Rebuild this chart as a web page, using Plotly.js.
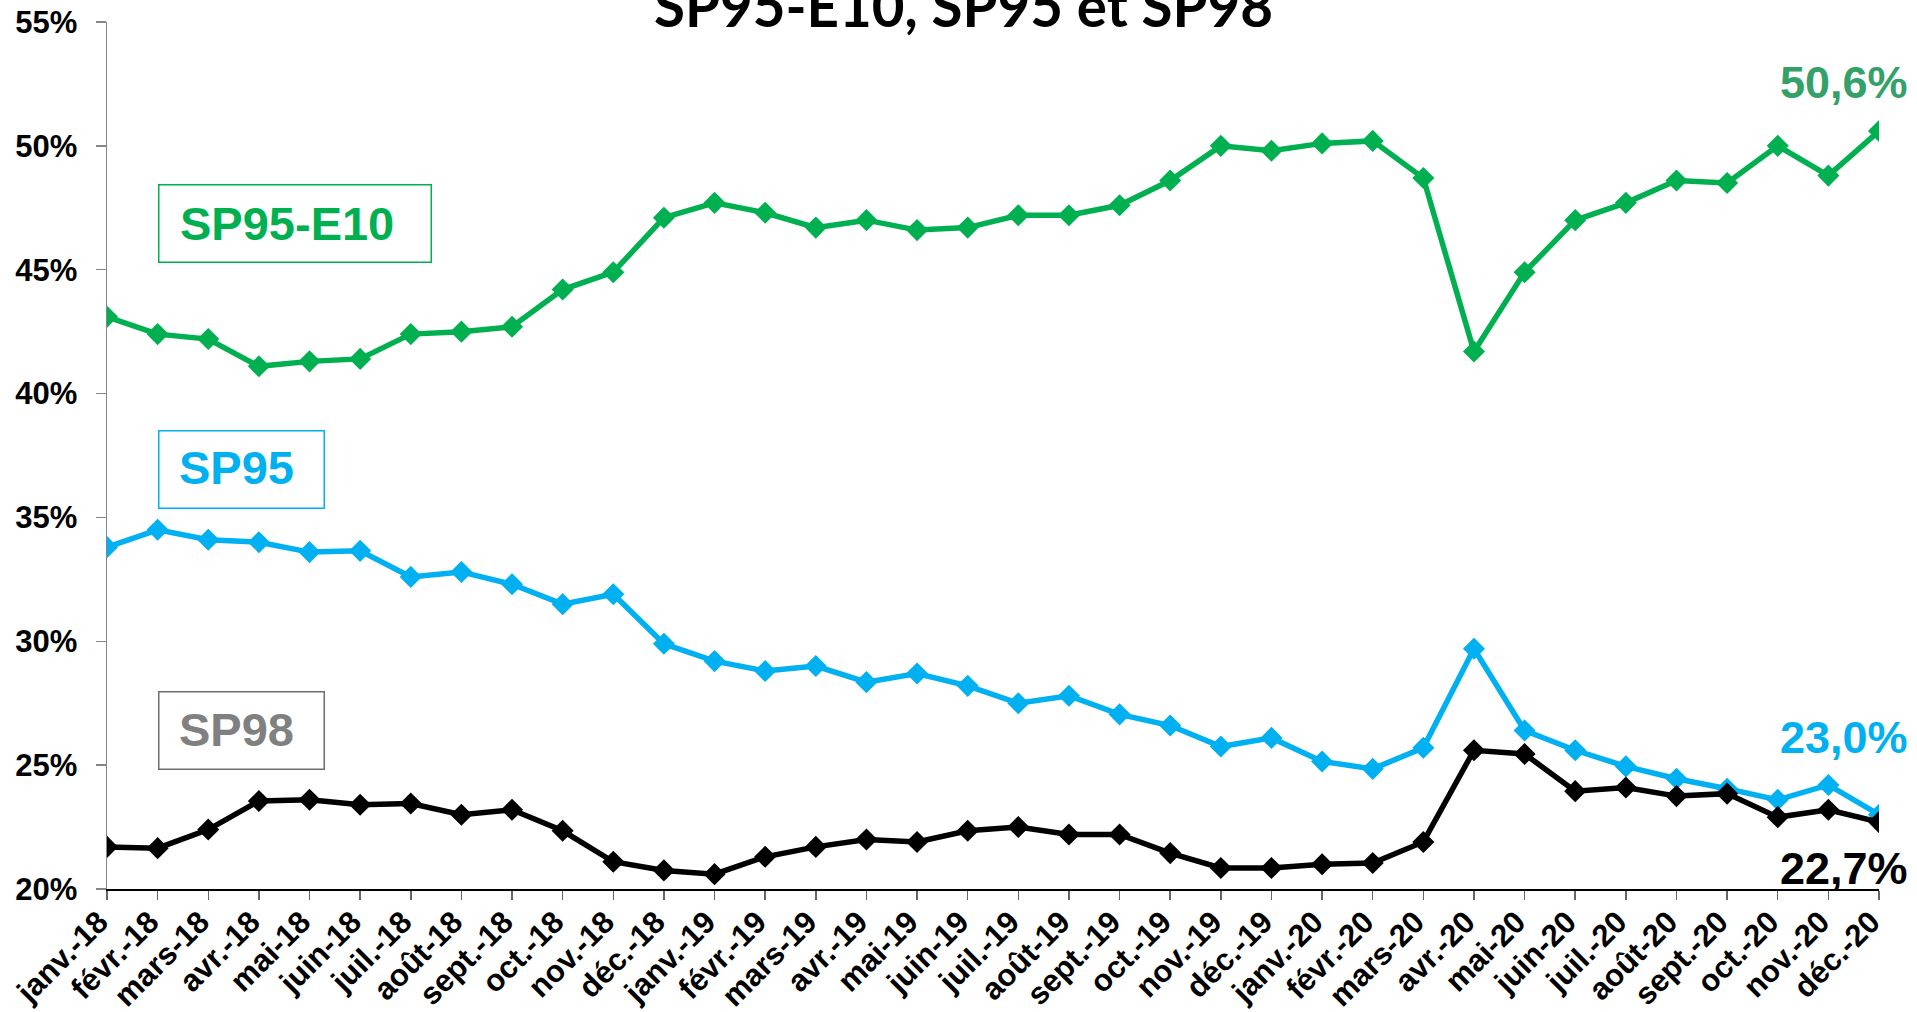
<!DOCTYPE html>
<html>
<head>
<meta charset="utf-8">
<script src="https://cdn.plot.ly/plotly-3.0.1.min.js"></script>
<style>html,body{margin:0;padding:0;background:#fff;}#chart{width:1917px;height:1012px;}</style>
</head>
<body>
<div id="chart"></div>
<script>
const months = ['janv.-18','févr.-18','mars-18','avr.-18','mai-18','juin-18','juil.-18','août-18','sept.-18','oct.-18','nov.-18','déc.-18',
'janv.-19','févr.-19','mars-19','avr.-19','mai-19','juin-19','juil.-19','août-19','sept.-19','oct.-19','nov.-19','déc.-19',
'janv.-20','févr.-20','mars-20','avr.-20','mai-20','juin-20','juil.-20','août-20','sept.-20','oct.-20','nov.-20','déc.-20'];

const sp95e10 = [43.1,42.4,42.2,41.1,41.3,41.4,42.4,42.5,42.7,44.2,44.9,47.1,
47.7,47.3,46.7,47.0,46.6,46.7,47.2,47.2,47.6,48.6,50.0,49.8,
50.1,50.2,48.7,41.7,44.9,47.0,47.7,48.6,48.5,50.0,48.8,50.6];

const sp95 = [33.8,34.5,34.1,34.0,33.6,33.65,32.6,32.8,32.3,31.5,31.9,29.9,
29.2,28.8,29.0,28.35,28.7,28.2,27.5,27.8,27.05,26.6,25.75,26.1,
25.15,24.85,25.7,29.7,26.4,25.6,24.95,24.45,24.05,23.6,24.2,23.0];

const sp98 = [21.7,21.65,22.4,23.55,23.6,23.4,23.45,23.0,23.2,22.35,21.1,20.75,
20.6,21.3,21.7,22.0,21.9,22.35,22.5,22.2,22.2,21.45,20.85,20.85,
21.0,21.05,21.9,25.6,25.45,23.95,24.1,23.75,23.85,22.9,23.2,22.7];

const yTickVals = [20,25,30,35,40,45,50,55];
const yTickText = ['20%','25%','30%','35%','40%','45%','50%','55%'];

const titleText = 'SP95-E10, SP95 et SP98';
const lastLabels = ['50,6%','23,0%','22,7%'];
const seriesNames = ['SP95-E10','SP95','SP98'];

const GREEN = '#00B050', CYAN = '#00B0F0', BLACK = '#000000';

function tr(y, color, name) {
  return {
    x: months, y: y, type: 'scatter', mode: 'lines+markers', name: name,
    line: {color: color, width: 5.5},
    marker: {symbol: 'diamond', size: 17, color: color},
    hoverinfo: 'x+y'
  };
}

const data = [tr(sp95e10, GREEN, seriesNames[0]), tr(sp95, CYAN, seriesNames[1]), tr(sp98, BLACK, seriesNames[2])];

const lastIdx = months.length - 1;

function box(yTop, w, color) {
  return {xref:'paper', yref:'paper', x:0.0288, y:yTop, text:'&nbsp;', showarrow:false,
    xanchor:'left', yanchor:'top', width:w, height:76, borderpad:0, borderwidth:1.5, bordercolor:color, bgcolor:'rgba(255,255,255,0)',
    font:{family:'Liberation Sans', size:10, color:color}};
}
function boxText(txt, xc, yc, color) {
  return {xref:'paper', yref:'paper', x:xc, y:yc, text:'<b>'+txt+'</b>', showarrow:false,
    xanchor:'center', yanchor:'middle', font:{family:'Liberation Sans', size:47, color:color}};
}

const annotations = [
  {xref:'paper', yref:'paper', x:0.4835, y:1.0196, text:'<b>'+titleText+'</b>', showarrow:false,
   xanchor:'center', yanchor:'middle', font:{family:'Lato', size:56.5, color:'#000'}},
  {xref:'x', yref:'y', x:months[lastIdx], y:sp95e10[lastIdx], text:'<b>'+lastLabels[0]+'</b>', showarrow:false,
   xanchor:'center', yanchor:'middle', xshift:-35, yshift:48, font:{family:'Liberation Sans', size:45, color:'#35A06A'}},
  {xref:'x', yref:'y', x:months[lastIdx], y:sp95[lastIdx], text:'<b>'+lastLabels[1]+'</b>', showarrow:false,
   xanchor:'center', yanchor:'middle', xshift:-35, yshift:77, font:{family:'Liberation Sans', size:45, color:CYAN}},
  {xref:'x', yref:'y', x:months[lastIdx], y:sp98[lastIdx], text:'<b>'+lastLabels[2]+'</b>', showarrow:false,
   xanchor:'center', yanchor:'middle', xshift:-35, yshift:-46, font:{family:'Liberation Sans', size:45, color:BLACK}},
  box(0.8131, 271, GREEN),
  box(0.5294, 164, CYAN),
  box(0.2284, 164, '#6E6E6E'),
  boxText(seriesNames[0], (287-107)/1772, 1-(224-22)/867, GREEN),
  boxText(seriesNames[1], (236.5-107)/1772, 1-(468-22)/867, CYAN),
  boxText(seriesNames[2], (236.5-107)/1772, 1-(729-22)/867, '#808080')
];

const layout = {
  width: 1917, height: 1012,
  margin: {l:107, r:38, t:22, b:123, pad:0},
  paper_bgcolor:'#fff', plot_bgcolor:'#fff',
  showlegend:false,
  font:{family:'Liberation Sans', color:'#000'},
  xaxis: {
    type:'category', range:[0, lastIdx], autorange:false,
    showgrid:false, zeroline:false,
    showline:true, linecolor:'#000', linewidth:1.5,
    ticks:'outside', ticklen:9, tickwidth:1.5, tickcolor:'#666',
    ticklabelstandoff:-8, ticklabelshift:-8,
    tickangle:-45, tickfont:{family:'Liberation Sans', size:31, color:'#000', weight:'bold'},
    fixedrange:true
  },
  yaxis: {
    range:[20,55], autorange:false,
    tickvals:yTickVals, ticktext:yTickText,
    showgrid:false, zeroline:false,
    showline:true, linecolor:'#868686', linewidth:1.5,
    ticks:'outside', ticklen:10, tickwidth:1.5, tickcolor:'#868686',
    ticklabelstandoff:12,
    tickfont:{family:'Liberation Sans', size:31, color:'#000', weight:'bold'},
    fixedrange:true
  },
  annotations: annotations
};

Plotly.newPlot('chart', data, layout, {displayModeBar:false, staticPlot:true});
</script>
</body>
</html>
